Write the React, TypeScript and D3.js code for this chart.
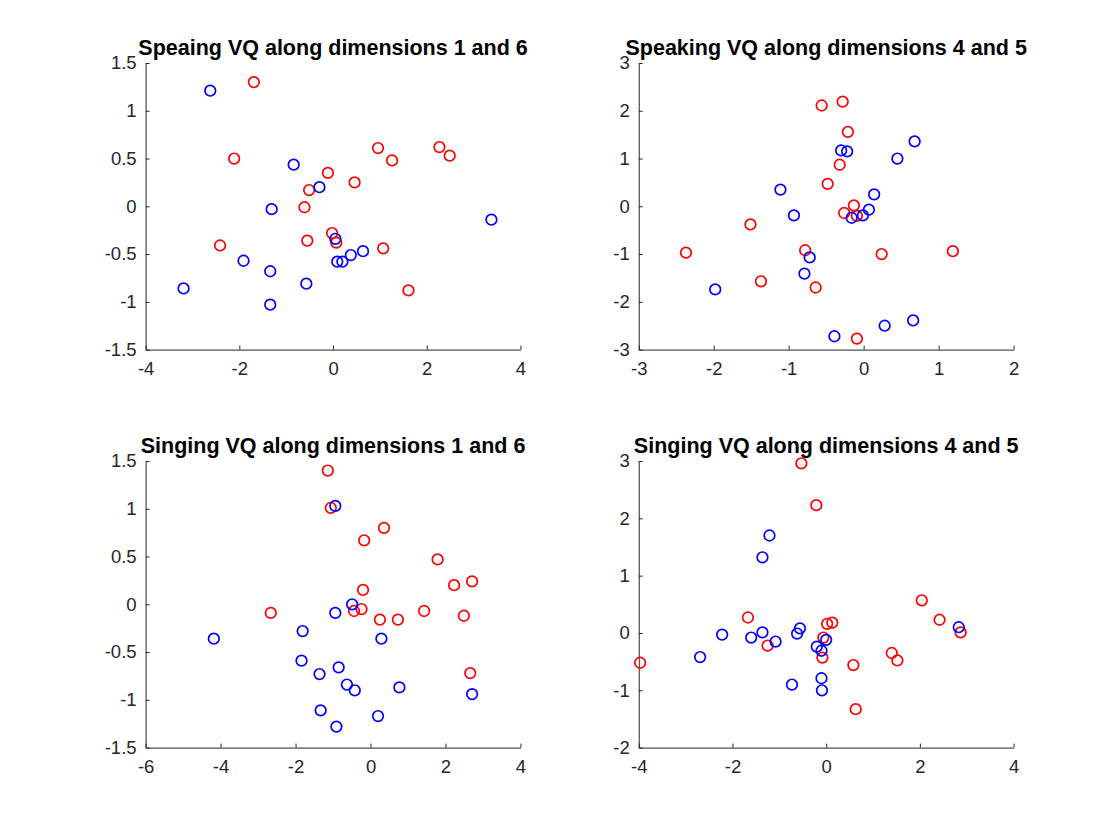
import React, { useEffect, useRef } from 'react';
import * as d3 from 'd3';

type Pt = [number, number];

// Speaking, dimensions 1 and 6
const speak16Blue: Pt[] = [
  [-2.62, 1.21], [-0.84, 0.436], [-0.29, 0.2], [-1.31, -0.03], [3.38, -0.14],
  [0.05, -0.34], [0.38, -0.51], [0.64, -0.47], [0.09, -0.58], [0.2, -0.58],
  [-1.91, -0.57], [-1.34, -0.68], [-0.57, -0.81], [-3.19, -0.86], [-1.34, -1.03],
];
const speak16Red: Pt[] = [
  [-1.69, 1.3], [-2.11, 0.5], [0.96, 0.61], [1.26, 0.48], [2.27, 0.62],
  [2.49, 0.53], [-0.11, 0.35], [-0.51, 0.17], [0.46, 0.25], [-0.61, -0.01],
  [-0.02, -0.28], [0.07, -0.38], [-0.55, -0.36], [-2.41, -0.41], [1.07, -0.44],
  [1.61, -0.88],
];

// Speaking, dimensions 4 and 5
const speak45Blue: Pt[] = [
  [0.68, 1.36], [0.45, 1.0], [-0.3, 1.17], [-0.22, 1.15], [-1.11, 0.35],
  [0.14, 0.25], [0.07, -0.07], [-0.01, -0.19], [-0.16, -0.24], [-0.93, -0.19],
  [-0.72, -1.07], [-0.79, -1.41], [-1.98, -1.74], [-0.39, -2.72], [0.28, -2.5],
  [0.66, -2.39],
];
const speak45Red: Pt[] = [
  [-0.56, 2.11], [-0.28, 2.19], [-0.21, 1.56], [-0.32, 0.87], [-0.48, 0.47],
  [-0.13, 0.02], [-0.26, -0.14], [-0.09, -0.2], [-1.51, -0.38], [-2.37, -0.97],
  [-0.78, -0.92], [0.24, -1.0], [1.19, -0.94], [-1.37, -1.57], [-0.64, -1.7],
  [-0.09, -2.77],
];

// Singing, dimensions 1 and 6
const sing16Blue: Pt[] = [
  [-0.94, 1.03], [-0.49, 0.0], [-0.94, -0.09], [-1.81, -0.28], [-4.18, -0.36],
  [0.29, -0.36], [-1.84, -0.59], [-0.85, -0.66], [-1.36, -0.73], [-0.63, -0.84],
  [-0.42, -0.9], [0.77, -0.87], [2.71, -0.94], [-1.33, -1.11], [0.2, -1.17],
  [-0.91, -1.28],
];
const sing16Red: Pt[] = [
  [-1.14, 1.4], [-1.06, 1.01], [0.36, 0.8], [-0.17, 0.67], [1.79, 0.47],
  [2.23, 0.2], [2.71, 0.24], [-0.2, 0.15], [-0.24, -0.05], [-0.44, -0.07],
  [-2.66, -0.09], [0.25, -0.16], [0.73, -0.16], [1.43, -0.07], [2.49, -0.12],
  [2.66, -0.72],
];

// Singing, dimensions 4 and 5
const sing45Blue: Pt[] = [
  [-1.21, 1.7], [-1.36, 1.32], [-2.69, -0.42], [-2.22, -0.03], [-1.6, -0.08],
  [-1.36, 0.01], [-1.08, -0.15], [-0.56, 0.08], [-0.62, -0.01], [-0.2, -0.24],
  [-0.1, -0.31], [0.0, -0.12], [-0.1, -0.79], [-0.09, -1.0], [-0.73, -0.9],
  [2.83, 0.1],
];
const sing45Red: Pt[] = [
  [-0.53, 2.96], [-0.21, 2.23], [-3.97, -0.52], [-1.67, 0.27], [-1.25, -0.22],
  [0.02, 0.16], [0.13, 0.18], [-0.06, -0.08], [-0.08, -0.43], [0.58, -0.56],
  [0.63, -1.33], [1.4, -0.35], [1.52, -0.48], [2.04, 0.57], [2.42, 0.23],
  [2.87, 0.01],
];

const ticks16X = [-4, -2, 0, 2, 4];
const ticks16Y = [-1.5, -1, -0.5, 0, 0.5, 1, 1.5];
const ticks45X = [-3, -2, -1, 0, 1, 2];
const ticks45Y = [-3, -2, -1, 0, 1, 2, 3];
const ticksSing16X = [-6, -4, -2, 0, 2, 4];
const ticksSing45X = [-4, -2, 0, 2, 4];
const ticksSing45Y = [-2, -1, 0, 1, 2, 3];

interface PanelDef {
  title: string;
  blue: Pt[];
  red: Pt[];
  xTicks: number[];
  yTicks: number[];
  left: number;
  top: number;
}

const W = 1120;
const H = 840;
const axW = 0.3347 * W;
const axH = 0.3412 * H;
const colLeft = [0.13 * W, 0.5703 * W];
const rowTop = [H * (1 - 0.5838) - axH, H * (1 - 0.11) - axH];

const panels: PanelDef[] = [
  { title: 'Speaing VQ along dimensions 1 and 6', blue: speak16Blue, red: speak16Red, xTicks: ticks16X, yTicks: ticks16Y, left: colLeft[0], top: rowTop[0] },
  { title: 'Speaking VQ along dimensions 4 and 5', blue: speak45Blue, red: speak45Red, xTicks: ticks45X, yTicks: ticks45Y, left: colLeft[1], top: rowTop[0] },
  { title: 'Singing VQ along dimensions 1 and 6', blue: sing16Blue, red: sing16Red, xTicks: ticksSing16X, yTicks: ticks16Y, left: colLeft[0], top: rowTop[1] },
  { title: 'Singing VQ along dimensions 4 and 5', blue: sing45Blue, red: sing45Red, xTicks: ticksSing45X, yTicks: ticksSing45Y, left: colLeft[1], top: rowTop[1] },
];

const font = 'Helvetica, "Liberation Sans", Arial, sans-serif';
const axisColor = '#262626';

const App: React.FC = () => {
  const svgRef = useRef<SVGSVGElement>(null);

  useEffect(() => {
    if (!svgRef.current) return;
    const svg = d3.select(svgRef.current);
    svg.selectAll('*').remove();

    panels.forEach(p => {
      const g = svg.append('g').attr('transform', `translate(${p.left},${p.top})`);

      const x = d3.scaleLinear()
        .domain(d3.extent(p.xTicks) as [number, number])
        .range([0, axW]);
      const y = d3.scaleLinear()
        .domain(d3.extent(p.yTicks) as [number, number])
        .range([axH, 0]);

      // bottom and left axes only, ticks pointing inward
      const xAxis = g.append('g')
        .attr('transform', `translate(0,${axH})`)
        .call(d3.axisBottom(x).tickValues(p.xTicks).tickSizeInner(-4).tickSizeOuter(0).tickPadding(12).tickFormat(d => String(d)));
      const yAxis = g.append('g')
        .call(d3.axisLeft(y).tickValues(p.yTicks).tickSizeInner(-4).tickSizeOuter(0).tickPadding(9).tickFormat(d => String(d)));

      [xAxis, yAxis].forEach(a => {
        a.attr('font-size', null).attr('font-family', null);
        a.select('.domain').attr('stroke', axisColor).attr('stroke-width', 1);
        a.selectAll('.tick line').attr('stroke', axisColor);
        a.selectAll('.tick text')
          .attr('fill', axisColor)
          .style('font-family', font)
          .style('font-size', '18.5px');
      });

      g.append('text')
        .attr('x', axW / 2)
        .attr('y', -8)
        .attr('text-anchor', 'middle')
        .style('font-family', font)
        .style('font-weight', 'bold')
        .style('font-size', '21.5px')
        .attr('fill', '#000')
        .text(p.title);

      g.append('g')
        .selectAll('circle')
        .data(p.red)
        .join('circle')
        .attr('cx', d => x(d[0]))
        .attr('cy', d => y(d[1]))
        .attr('r', 5.3)
        .attr('fill', 'none')
        .attr('stroke', '#ff0000')
        .attr('stroke-width', 1.7);

      g.append('g')
        .selectAll('circle')
        .data(p.blue)
        .join('circle')
        .attr('cx', d => x(d[0]))
        .attr('cy', d => y(d[1]))
        .attr('r', 5.3)
        .attr('fill', 'none')
        .attr('stroke', '#0000ff')
        .attr('stroke-width', 1.7);
    });
  }, []);

  return (
    <svg
      ref={svgRef}
      width={W}
      height={H}
      style={{ position: 'absolute', left: 0, top: 0, background: '#fff' }}
    />
  );
};

export default App;
